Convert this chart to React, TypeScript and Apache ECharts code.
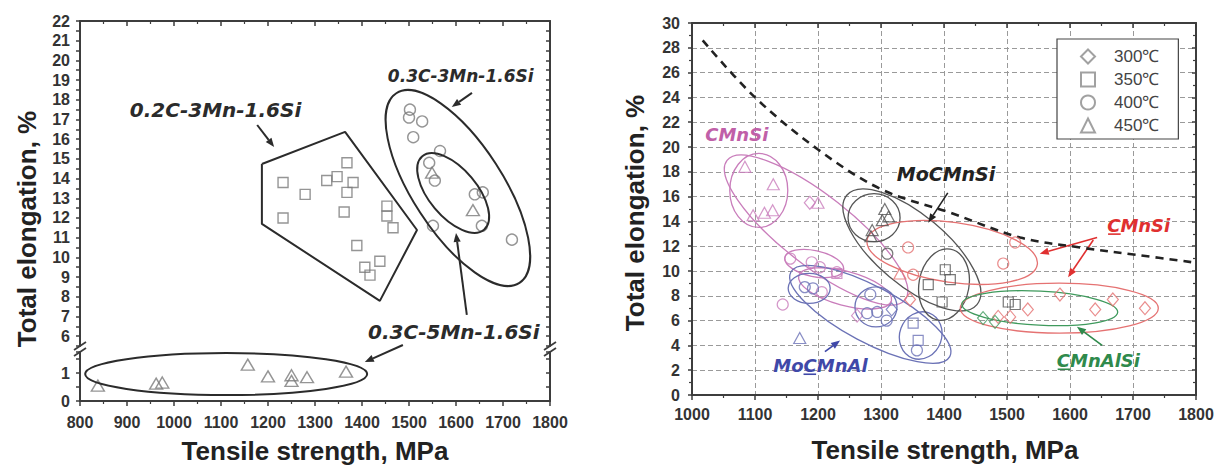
import { useEffect, useRef } from 'react';
import * as echarts from 'echarts';

// ---------- Left panel: Tensile strength (MPa) vs total elongation (%) ----------
const leftXTicks = [800, 1800];
const squares02C3Mn = [
  [1232, 13.8], [1232, 12.0], [1279, 13.2], [1325, 13.9], [1347, 14.1], [1368, 14.8],
  [1381, 13.8], [1368, 13.3], [1362, 12.3], [1453, 12.6], [1453, 12.1], [1466, 11.5],
  [1389, 10.6], [1438, 9.8], [1406, 9.5], [1417, 9.1],
];
const circles03C3Mn = [
  [1502, 17.5], [1500, 17.1], [1528, 16.9], [1509, 16.1], [1566, 15.4], [1543, 14.8],
  [1555, 13.9], [1640, 13.2], [1657, 13.3], [1655, 11.6], [1551, 11.6], [1719, 10.9],
];
const triangles03C5MnHigh = [[1549, 14.3], [1636, 12.4]];
const triangles03C5MnLow = [
  [838, 0.55], [962, 0.62], [975, 0.66], [1157, 1.3], [1200, 0.88],
  [1250, 0.92], [1250, 0.72], [1283, 0.85], [1366, 1.05],
];
const polygon02C3Mn = [
  [1187, 14.74], [1364, 16.37], [1517, 11.39], [1438, 7.79], [1187, 11.7], [1187, 14.74],
];

// ---------- Right panel ----------
const tempNames = ['300℃', '350℃', '400℃', '450℃'];
const groupColor: Record<string, string> = {
  CMnSi: '#c97dbb',
  CMnSiHC: '#e57272',
  MoCMnSi: '#555555',
  MoCMnAl: '#6b72b6',
  CMnAlSi: '#3f9a5d',
};
const r300: [string, number, number][] = [
  ['CMnSi', 1187, 15.5], ['CMnSiHC', 1584, 8.1], ['CMnSiHC', 1668, 7.7], ['CMnSiHC', 1719, 7.0],
  ['CMnSiHC', 1640, 6.9], ['CMnSiHC', 1533, 6.9], ['CMnSiHC', 1486, 6.3], ['CMnSiHC', 1505, 6.3],
  ['CMnAlSi', 1462, 6.2], ['CMnAlSi', 1481, 5.9], ['CMnSiHC', 1346, 7.7], ['MoCMnAl', 1317, 6.9],
  ['CMnSi', 1262, 6.4],
];
const r350: [string, number, number][] = [
  ['MoCMnSi', 1402, 10.1], ['MoCMnSi', 1375, 8.9], ['MoCMnSi', 1410, 9.3], ['MoCMnSi', 1397, 7.5],
  ['MoCMnSi', 1502, 7.5], ['MoCMnSi', 1513, 7.3], ['MoCMnAl', 1351, 5.8], ['MoCMnAl', 1359, 4.4],
  ['CMnSi', 1230, 9.8],
];
const r400: [string, number, number][] = [
  ['CMnSi', 1156, 11.0], ['CMnSi', 1190, 10.7], ['CMnSi', 1203, 10.3], ['CMnSi', 1230, 9.9],
  ['CMnSi', 1144, 7.3], ['CMnSi', 1206, 8.3], ['MoCMnAl', 1179, 8.7], ['MoCMnAl', 1192, 8.6],
  ['MoCMnAl', 1283, 8.1], ['MoCMnAl', 1278, 6.6], ['MoCMnAl', 1294, 6.7], ['MoCMnAl', 1309, 6.0],
  ['MoCMnAl', 1357, 3.6], ['CMnSiHC', 1494, 10.6], ['CMnSiHC', 1513, 12.3], ['MoCMnSi', 1310, 11.4],
  ['CMnSiHC', 1343, 11.9], ['CMnSiHC', 1351, 9.7],
];
const r450: [string, number, number][] = [
  ['CMnSi', 1084, 18.4], ['CMnSi', 1129, 17.0], ['CMnSi', 1097, 14.5], ['CMnSi', 1115, 14.7],
  ['CMnSi', 1128, 14.9], ['CMnSi', 1200, 15.5], ['MoCMnSi', 1306, 15.0], ['MoCMnSi', 1302, 14.1],
  ['MoCMnSi', 1312, 14.4], ['MoCMnSi', 1286, 13.3], ['MoCMnSi', 1284, 12.8], ['CMnSiHC', 1330, 9.8],
  ['MoCMnAl', 1171, 4.6],
];
const boundaryTS = [1017, 1100, 1200, 1300, 1410, 1521, 1616, 1706, 1795];
const boundaryTE = [28.6, 24.0, 19.8, 16.6, 14.7, 12.7, 11.9, 11.3, 10.7];

// ---------- Annotation shapes (centres / ends in data units, radii in px) ----------
type Ann =
  | { kind: 'ellipse'; c: number[]; rx: number; ry: number; rot: number; color: string; w: number }
  | { kind: 'arrow'; from: number[]; to: number[]; color: string; w: number }
  | { kind: 'text'; at: number[]; text: string; color: string; size: number; ul?: number[] };

const DARK = '#2b2b2b';
const leftUpperAnn: Ann[] = [
  { kind: 'ellipse', c: [1604, 13.52], rx: 113, ry: 45, rot: 57, color: DARK, w: 2 },
  { kind: 'ellipse', c: [1594, 13.27], rx: 48, ry: 24, rot: 50, color: DARK, w: 2 },
  { kind: 'text', at: [906, 17.48], text: '0.2C-3Mn-1.6Si', color: DARK, size: 20 },
  { kind: 'arrow', from: [1177, 16.72], to: [1213, 15.6], color: DARK, w: 2 },
  { kind: 'text', at: [1455, 19.21], text: '0.3C-3Mn-1.6Si', color: DARK, size: 17 },
  { kind: 'arrow', from: [1634, 18.35], to: [1591, 17.63], color: DARK, w: 2 },
  { kind: 'text', at: [1413, 6.21], text: '0.3C-5Mn-1.6Si', color: DARK, size: 20 },
  { kind: 'arrow', from: [1623, 7.08], to: [1600, 11.24], color: DARK, w: 2 },
];
const leftLowerAnn: Ann[] = [
  { kind: 'ellipse', c: [1111, 0.96], rx: 141, ry: 21, rot: 0, color: DARK, w: 2 },
  { kind: 'arrow', from: [1487, 2.0], to: [1406, 1.39], color: DARK, w: 2 },
];
const rightAnn: Ann[] = [
  { kind: 'ellipse', c: [1106, 16.5], rx: 29, ry: 37, rot: 0, color: groupColor.CMnSi, w: 1.3 },
  { kind: 'ellipse', c: [1197, 13.3], rx: 113, ry: 35, rot: 38, color: groupColor.CMnSi, w: 1.3 },
  { kind: 'ellipse', c: [1194, 10.6], rx: 30, ry: 13, rot: 12, color: groupColor.CMnSi, w: 1.3 },
  { kind: 'ellipse', c: [1243, 8.6], rx: 48, ry: 17, rot: 15, color: groupColor.CMnSi, w: 1.3 },
  { kind: 'ellipse', c: [1186, 8.6], rx: 21, ry: 15, rot: 0, color: groupColor.MoCMnAl, w: 1.3 },
  { kind: 'ellipse', c: [1283, 6.5], rx: 90, ry: 28, rot: 28, color: groupColor.MoCMnAl, w: 1.3 },
  { kind: 'ellipse', c: [1292, 7.1], rx: 21, ry: 20, rot: 0, color: groupColor.MoCMnAl, w: 1.3 },
  { kind: 'ellipse', c: [1363, 4.8], rx: 21, ry: 24, rot: 20, color: groupColor.MoCMnAl, w: 1.3 },
  { kind: 'ellipse', c: [1289, 14.3], rx: 26, ry: 24, rot: 0, color: groupColor.MoCMnSi, w: 1.3 },
  { kind: 'ellipse', c: [1349, 11.7], rx: 85, ry: 35, rot: 40, color: groupColor.MoCMnSi, w: 1.3 },
  { kind: 'ellipse', c: [1400, 8.9], rx: 25, ry: 36, rot: 10, color: groupColor.MoCMnSi, w: 1.3 },
  { kind: 'ellipse', c: [1413, 11.5], rx: 86, ry: 30, rot: 8, color: groupColor.CMnSiHC, w: 1.3 },
  { kind: 'ellipse', c: [1583, 7.0], rx: 99, ry: 25, rot: 0, color: groupColor.CMnSiHC, w: 1.3 },
  { kind: 'ellipse', c: [1552, 7.0], rx: 78, ry: 17, rot: 3, color: groupColor.CMnAlSi, w: 1.3 },
  { kind: 'text', at: [1021, 21.0], text: 'CMnSi', color: '#c060a8', size: 18 },
  { kind: 'text', at: [1325, 17.8], text: 'MoCMnSi', color: '#222', size: 19 },
  { kind: 'arrow', from: [1406, 16.3], to: [1375, 13.9], color: '#222', w: 1.6 },
  { kind: 'text', at: [1659, 13.7], text: 'CMnSi', color: '#e03030', size: 18, ul: [0.05, 0.7] },
  { kind: 'arrow', from: [1643, 12.7], to: [1552, 11.4], color: '#e03030', w: 1.6 },
  { kind: 'arrow', from: [1637, 12.5], to: [1597, 9.5], color: '#e03030', w: 1.6 },
  { kind: 'text', at: [1129, 2.4], text: 'MoCMnAl', color: '#3f48a8', size: 18, ul: [1.68, 0.7] },
  { kind: 'arrow', from: [1211, 3.5], to: [1235, 4.4], color: '#3f48a8', w: 1.6 },
  { kind: 'text', at: [1579, 2.8], text: 'CMnAlSi', color: '#2f8a4c', size: 18, ul: [0.05, 0.7] },
  { kind: 'arrow', from: [1651, 4.0], to: [1611, 5.5], color: '#2f8a4c', w: 1.6 },
];

const ANN_FONT = '"DejaVu Sans", sans-serif';
const TICK_FONT = '"Liberation Sans", Arial, sans-serif';

function annRenderer(list: Ann[]) {
  return (params: any, api: any) => {
    const a = list[params.dataIndex];
    if (a.kind === 'ellipse') {
      const p = api.coord(a.c);
      return {
        type: 'ellipse', x: p[0], y: p[1], rotation: (-a.rot * Math.PI) / 180,
        shape: { cx: 0, cy: 0, rx: a.rx, ry: a.ry },
        style: { fill: 'none', stroke: a.color, lineWidth: a.w },
      };
    }
    if (a.kind === 'arrow') {
      const p1 = api.coord(a.from);
      const p2 = api.coord(a.to);
      const ang = Math.atan2(p2[1] - p1[1], p2[0] - p1[0]);
      const L = 9, W = 3.6;
      const bx = p2[0] - L * Math.cos(ang), by = p2[1] - L * Math.sin(ang);
      const nx = -Math.sin(ang), ny = Math.cos(ang);
      return {
        type: 'group',
        children: [
          { type: 'line', shape: { x1: p1[0], y1: p1[1], x2: bx, y2: by }, style: { stroke: a.color, lineWidth: a.w } },
          { type: 'polygon', shape: { points: [[p2[0], p2[1]], [bx + nx * W, by + ny * W], [bx - nx * W, by - ny * W]] }, style: { fill: a.color } },
        ],
      };
    }
    const p = api.coord(a.at);
    const children: any[] = [
      {
        type: 'text', x: p[0], y: p[1],
        style: { text: a.text, fill: a.color, font: `italic bold ${a.size}px ${ANN_FONT}`, align: 'left', verticalAlign: 'middle' },
      },
    ];
    if (a.ul) {
      const yy = p[1] + a.size * 0.5;
      children.push({
        type: 'line',
        shape: { x1: p[0] + a.ul[0] * a.size, y1: yy, x2: p[0] + (a.ul[0] + a.ul[1]) * a.size, y2: yy },
        style: { stroke: a.color, lineWidth: 1.6 },
      });
    }
    return { type: 'group', children };
  };
}

function annSeries(list: Ann[], xi: number, yi: number) {
  return {
    type: 'custom', xAxisIndex: xi, yAxisIndex: yi, silent: true, clip: false, z: 3,
    data: list.map((a: any) => a.c || a.at || a.from),
    renderItem: annRenderer(list),
  };
}

const AXIS_COLOR = '#3d3d3d';
const plain = (v: number) => String(v);
const tickLabel = (margin: number) => ({
  fontFamily: TICK_FONT, fontWeight: 'bold' as const, fontSize: 16, color: '#333', margin, formatter: plain,
});

function xAxisDef(grid: number, pos: 'top' | 'bottom', min: number, max: number, labels: boolean, split: boolean, margin: number) {
  return {
    type: 'value', gridIndex: grid, position: pos, min, max, interval: 100,
    axisLine: { show: true, onZero: false, lineStyle: { color: AXIS_COLOR, width: 2 } },
    axisTick: { show: true, inside: pos === 'top', length: 5, lineStyle: { color: AXIS_COLOR, width: 1.5 } },
    minorTick: { show: true, splitNumber: 2, length: 3, lineStyle: { color: AXIS_COLOR, width: 1.2 } },
    axisLabel: labels ? tickLabel(margin) : { show: false },
    splitLine: split ? { show: true, lineStyle: { color: '#9a9a9a', type: [5, 3], width: 1 } } : { show: false },
  };
}

function yAxisDef(grid: number, pos: 'left' | 'right', min: number, max: number, interval: number, labels: boolean, fmt: any, split: boolean, minor: boolean, margin = 10) {
  return {
    type: 'value', gridIndex: grid, position: pos, min, max, interval,
    axisLine: { show: true, onZero: false, lineStyle: { color: AXIS_COLOR, width: 2 } },
    axisTick: { show: true, inside: pos === 'right', length: 4, lineStyle: { color: AXIS_COLOR, width: 1.5 } },
    minorTick: { show: minor, splitNumber: 2, length: 3, lineStyle: { color: AXIS_COLOR, width: 1.2 } },
    axisLabel: labels ? { ...tickLabel(margin), formatter: fmt } : { show: false },
    splitLine: split ? { show: true, lineStyle: { color: '#9a9a9a', type: [5, 3], width: 1 } } : { show: false },
  };
}

const hollow = (border: string, w = 1.4) => ({ color: 'rgba(255,255,255,0)', borderColor: border, borderWidth: w });

const symbolOf: Record<string, string> = { '300℃': 'diamond', '350℃': 'rect', '400℃': 'circle', '450℃': 'triangle' };
const sizeOf: Record<string, number | number[]> = { '300℃': [11, 13], '350℃': 10, '400℃': 11, '450℃': [12, 11] };

function rightSeries(name: string, pts: [string, number, number][]) {
  return {
    type: 'scatter', name, xAxisIndex: 2, yAxisIndex: 4, z: 4,
    symbol: symbolOf[name], symbolSize: sizeOf[name],
    itemStyle: hollow('#8a8a8a', 1.2),
    data: pts.map(([g, x, y]) => ({ value: [x, y], itemStyle: { borderColor: groupColor[g] } })),
  };
}

const TITLE_FONT = `bold 26px ${TICK_FONT}`;

export default function App() {
  const ref = useRef<HTMLDivElement>(null);
  useEffect(() => {
    if (!ref.current) return;
    const chart = echarts.init(ref.current, undefined, { renderer: 'svg' });
    const intFmt = (lo: number) => (v: number) => (Number.isInteger(v) && v >= lo ? String(v) : '');
    const breakMarks = [80, 550].flatMap((x) => [
      { type: 'line', shape: { x1: x - 6, y1: 350, x2: x + 6, y2: 342 }, style: { stroke: AXIS_COLOR, lineWidth: 1.8 } },
      { type: 'line', shape: { x1: x - 6, y1: 356, x2: x + 6, y2: 348 }, style: { stroke: AXIS_COLOR, lineWidth: 1.8 } },
    ]);
    chart.setOption({
      animation: false,
      backgroundColor: '#ffffff',
      grid: [
        { left: 80, width: 470, top: 21, height: 325 },
        { left: 80, width: 470, top: 352, height: 49 },
        { left: 692, width: 504, top: 23, height: 372 },
      ],
      xAxis: [
        xAxisDef(0, 'top', leftXTicks[0], leftXTicks[1], false, false, 0),
        xAxisDef(1, 'bottom', leftXTicks[0], leftXTicks[1], true, false, 13),
        xAxisDef(2, 'bottom', 1000, 1800, true, true, 11),
        xAxisDef(2, 'top', 1000, 1800, false, false, 0),
      ],
      yAxis: [
        yAxisDef(0, 'left', 5.5, 22, 0.5, true, intFmt(6), false, false),
        yAxisDef(0, 'right', 5.5, 22, 0.5, false, null, false, false),
        yAxisDef(1, 'left', 0, 1.75, 0.5, true, intFmt(0), false, false),
        yAxisDef(1, 'right', 0, 1.75, 0.5, false, null, false, false),
        yAxisDef(2, 'left', 0, 30, 2, true, plain, true, true, 12),
        yAxisDef(2, 'right', 0, 30, 2, false, null, false, true),
      ],
      legend: {
        data: tempNames, orient: 'vertical', left: 1057, top: 39,
        padding: [9, 19, 5, 23], itemGap: 6, itemWidth: 14, itemHeight: 14,
        borderColor: '#444', borderWidth: 1.2, backgroundColor: '#fff',
        textStyle: { fontFamily: TICK_FONT, fontSize: 17, color: '#444', lineHeight: 16, padding: [0, 0, 0, 14] },
        selectedMode: false,
      },
      series: [
        {
          type: 'line', xAxisIndex: 0, yAxisIndex: 0, data: polygon02C3Mn, symbol: 'none', z: 3,
          lineStyle: { color: DARK, width: 2 }, silent: true,
        },
        { type: 'scatter', xAxisIndex: 0, yAxisIndex: 0, symbol: 'rect', symbolSize: 10, itemStyle: hollow('#7a7a7a'), data: squares02C3Mn },
        { type: 'scatter', xAxisIndex: 0, yAxisIndex: 0, symbol: 'circle', symbolSize: 11, itemStyle: hollow('#7a7a7a'), data: circles03C3Mn },
        { type: 'scatter', xAxisIndex: 0, yAxisIndex: 0, symbol: 'triangle', symbolSize: [13, 11], itemStyle: hollow('#7a7a7a'), data: triangles03C5MnHigh },
        { type: 'scatter', xAxisIndex: 1, yAxisIndex: 2, symbol: 'triangle', symbolSize: [13, 11], itemStyle: hollow('#7a7a7a'), data: triangles03C5MnLow, clip: false },
        annSeries(leftUpperAnn, 0, 0),
        annSeries(leftLowerAnn, 1, 2),
        {
          type: 'line', xAxisIndex: 2, yAxisIndex: 4, symbol: 'none', smooth: 0.35, z: 3, silent: true,
          data: boundaryTS.map((x, i) => [x, boundaryTE[i]]),
          lineStyle: { color: '#222', width: 2.6, type: [8, 6] },
        },
        annSeries(rightAnn, 2, 4),
        rightSeries('300℃', r300),
        rightSeries('350℃', r350),
        rightSeries('400℃', r400),
        rightSeries('450℃', r450),
      ],
      graphic: [
        ...breakMarks,
        { type: 'text', x: 27, y: 229, rotation: Math.PI / 2, style: { text: 'Total elongation, %', font: TITLE_FONT, fill: '#222', align: 'center', verticalAlign: 'middle' } },
        { type: 'text', x: 315, y: 451, style: { text: 'Tensile strength, MPa', font: TITLE_FONT, fill: '#222', align: 'center', verticalAlign: 'middle' } },
        { type: 'text', x: 635, y: 213, rotation: Math.PI / 2, style: { text: 'Total elongation, %', font: TITLE_FONT, fill: '#222', align: 'center', verticalAlign: 'middle' } },
        { type: 'text', x: 945, y: 450, style: { text: 'Tensile strength, MPa', font: TITLE_FONT, fill: '#222', align: 'center', verticalAlign: 'middle' } },
      ],
    });
    return () => chart.dispose();
  }, []);
  return <div ref={ref} style={{ position: 'fixed', left: 0, top: 0, width: 1217, height: 470 }} />;
}
